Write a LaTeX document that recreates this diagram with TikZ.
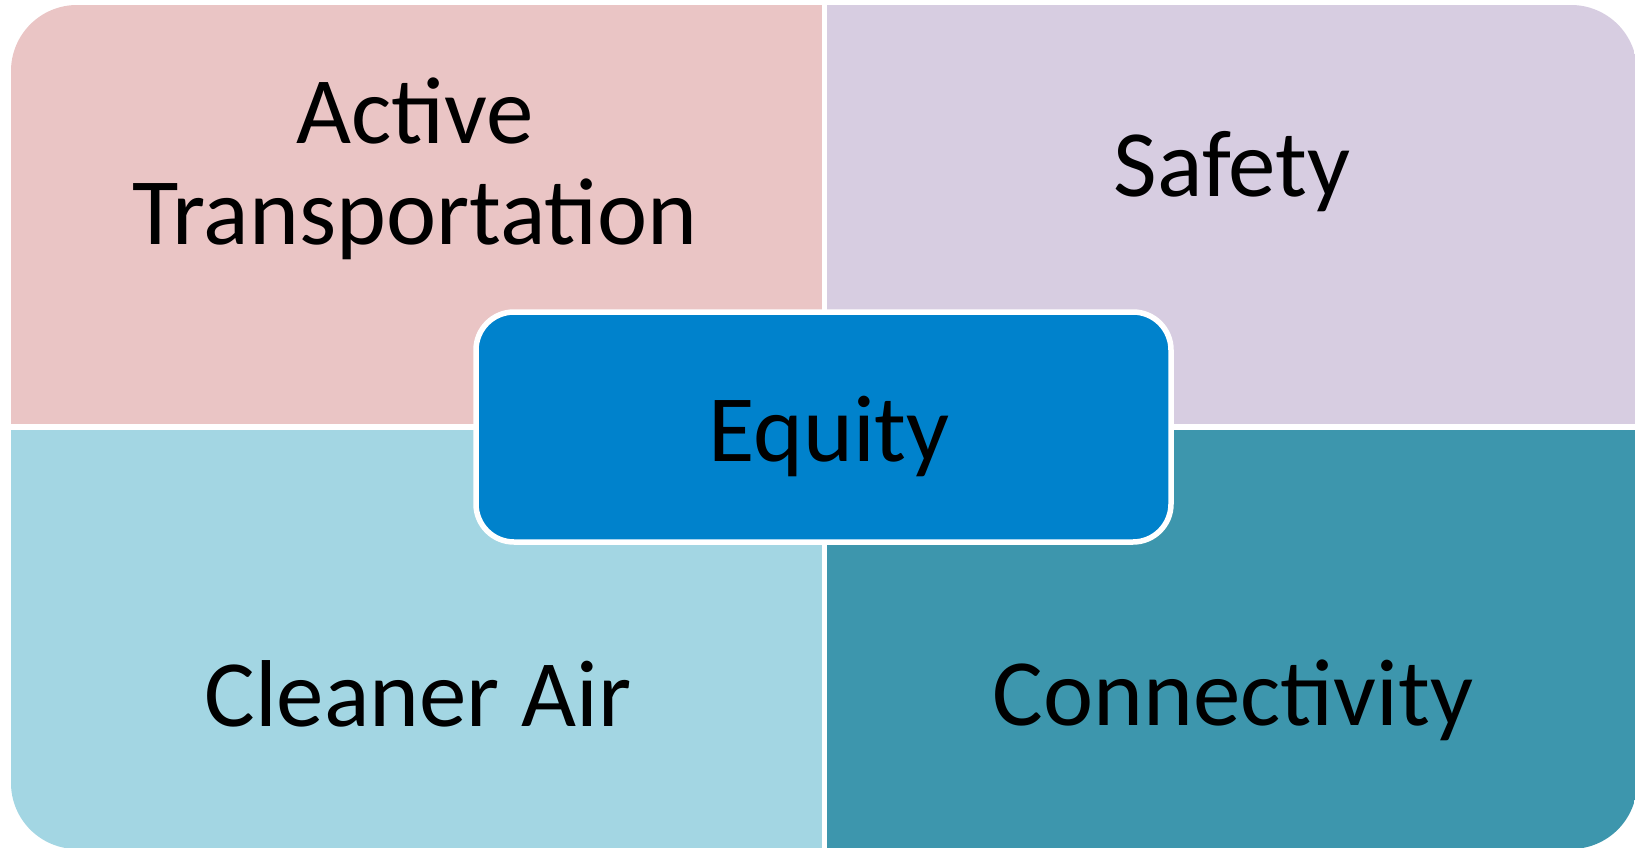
\documentclass[tikz,border=0pt]{standalone}
\usepackage{fontspec}
\setmainfont{Carlito}
\usepackage{xcolor}
\usetikzlibrary{positioning}

\definecolor{atpink}{HTML}{EAC5C5}
\definecolor{safelilac}{HTML}{D7CDE1}
\definecolor{airblue}{HTML}{A3D6E3}
\definecolor{connteal}{HTML}{3D96AD}
\definecolor{eqblue}{HTML}{0082CC}

\begin{document}
\begin{tikzpicture}[x=1pt,y=-1pt,
    lbl/.style={inner sep=0pt, anchor=base, text=black, font=\fontsize{95}{101}\selectfont},
    hub/.style={draw=white, line width=5.5pt, fill=eqblue, rounded corners=38pt,
                minimum width=695pt, minimum height=230pt, inner sep=0pt}]
            \fill[white] (0,0) rectangle (1635,848);
            \useasboundingbox (0,0) rectangle (1635,848);
            % the four fields, cut by one rounded outline
            \begin{scope}
              \clip[rounded corners=66pt] (11,5) rectangle (1637,849);
              \fill[atpink] (11,5) rectangle (822,424);
              \fill[safelilac] (827,5) rectangle (1637,424);
              \fill[airblue] (11,430) rectangle (822,849);
              \fill[connteal] (827,430) rectangle (1637,849);
            \end{scope}
            \node[hub] (equity) at (823.5,427) {};
            \node[lbl] (active) at (415,143) {Active};
            \node[lbl] (transport) at (415,244) {Transportation};
            \node[lbl] (safety) at (1232,196) {Safety};
            \node[lbl] (cleanair) at (418,726) {Cleaner Air};
            \node[lbl] (connect) at (1233,725) {Connectivity};
            \node[lbl] (equitytxt) at (829,461) {Equity};
      \end{tikzpicture}
\end{document}
